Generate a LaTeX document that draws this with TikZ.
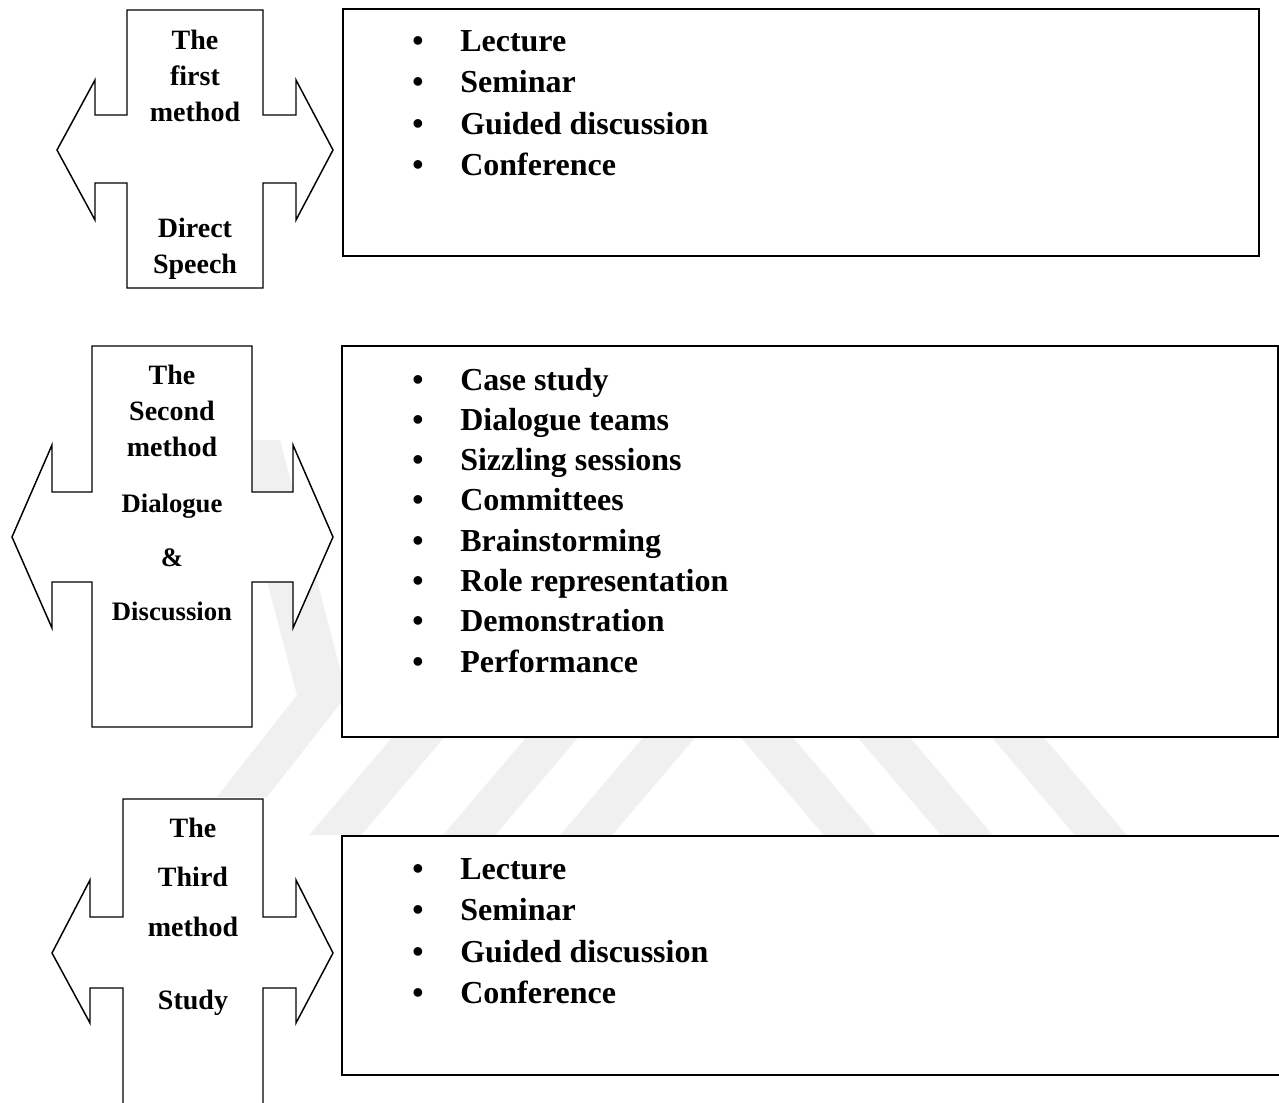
\documentclass[tikz,border=0pt]{standalone}
\usepackage{fontspec}
\setmainfont{Liberation Serif}
\begin{document}
\begin{tikzpicture}[x=0.75pt,y=-0.75pt,
  shp/.style={draw=black, fill=white, line width=1.1pt, line join=miter},
  bx/.style={draw=black, fill=white, line width=1.5pt},
  ttl/.style={font=\fontsize{21}{25}\selectfont\bfseries, anchor=base, inner sep=0pt},
  sub/.style={font=\fontsize{20}{24}\selectfont\bfseries, anchor=base, inner sep=0pt},
  itm/.style={font=\fontsize{24}{29}\selectfont\bfseries, anchor=base west, inner sep=0pt},
  bul/.style={font=\fontsize{24}{29}\selectfont\bfseries, anchor=base, inner sep=0pt},
  wm/.style={fill=black!6, draw=none}]
\useasboundingbox (0,0) rectangle (1279,1103);
\clip (0,0) rectangle (1279,1103);
\fill[white] (0,0) rectangle (1279,1103);
% faint watermark
\fill[wm] (230,440) -- (280,440) -- (347,695) -- (267,797) -- (217,797) -- (297,695) -- cycle;
\foreach \c in {416,550,667} {
  \fill[wm] ({\c-26+0.85*40},700) -- ({\c+26+0.85*40},700) -- ({\c+26-0.85*95},835) -- ({\c-26-0.85*95},835) -- cycle;
}
\foreach \c in {769,886,1020} {
  \fill[wm] ({\c-26-0.85*40},700) -- ({\c+26-0.85*40},700) -- ({\c+26+0.85*95},835) -- ({\c-26+0.85*95},835) -- cycle;
}
% first method
\draw[shp] (127,10) -- (263,10) -- (263,115) -- (296,115) -- (296,80) -- (333,150) -- (296,220) -- (296,183) -- (263,183) -- (263,288) -- (127,288) -- (127,183) -- (95,183) -- (95,220) -- (57,150) -- (95,80) -- (95,115) -- (127,115) -- cycle;
\node[ttl] (m1a) at (195,49) {The};
\node[ttl] (m1b) at (195,85) {first};
\node[ttl] (m1c) at (195,121) {method};
\node[ttl] (m1d) at (195,237) {Direct};
\node[ttl] (m1e) at (195,273) {Speech};
\draw[bx] (343,9) rectangle (1259,256);
\foreach \t [count=\i] in {Lecture,Seminar,Guided discussion,Conference} {
  \node[bul] (b1\i) at (418,{51+41.5*(\i-1)}) {•};
  \node[itm] (t1\i) at (460,{51+41.5*(\i-1)}) {\t};
}
% second method
\draw[shp] (92,346) -- (252,346) -- (252,492) -- (293,492) -- (293,445) -- (333,537) -- (293,628) -- (293,582) -- (252,582) -- (252,727) -- (92,727) -- (92,582) -- (52,582) -- (52,628) -- (12,537) -- (52,445) -- (52,492) -- (92,492) -- cycle;
\node[ttl] (m2a) at (172,384) {The};
\node[ttl] (m2b) at (172,420) {Second};
\node[ttl] (m2c) at (172,456) {method};
\node[sub] (m2d) at (172,512) {Dialogue};
\node[sub] (m2e) at (172,566) {\&};
\node[sub] (m2f) at (172,620) {Discussion};
\draw[bx] (342,346) rectangle (1278,737);
\foreach \t [count=\i] in {Case study,Dialogue teams,Sizzling sessions,Committees,Brainstorming,Role representation,Demonstration,Performance} {
  \node[bul] (b2\i) at (418,{390+40.3*(\i-1)}) {•};
  \node[itm] (t2\i) at (460,{390+40.3*(\i-1)}) {\t};
}
% third method
\draw[shp] (123,1115) -- (123,988) -- (90,988) -- (90,1023) -- (52,953) -- (90,880) -- (90,917) -- (123,917) -- (123,799) -- (263,799) -- (263,917) -- (296,917) -- (296,880) -- (333,953) -- (296,1023) -- (296,988) -- (263,988) -- (263,1115) -- cycle;
\node[ttl] (m3a) at (193,837) {The};
\node[ttl] (m3b) at (193,886) {Third};
\node[ttl] (m3c) at (193,936) {method};
\node[ttl] (m3d) at (193,1009) {Study};
\draw[bx] (342,836) rectangle (1295,1075);
\foreach \t [count=\i] in {Lecture,Seminar,Guided discussion,Conference} {
  \node[bul] (b3\i) at (418,{879+41.5*(\i-1)}) {•};
  \node[itm] (t3\i) at (460,{879+41.5*(\i-1)}) {\t};
}
\end{tikzpicture}
\end{document}
